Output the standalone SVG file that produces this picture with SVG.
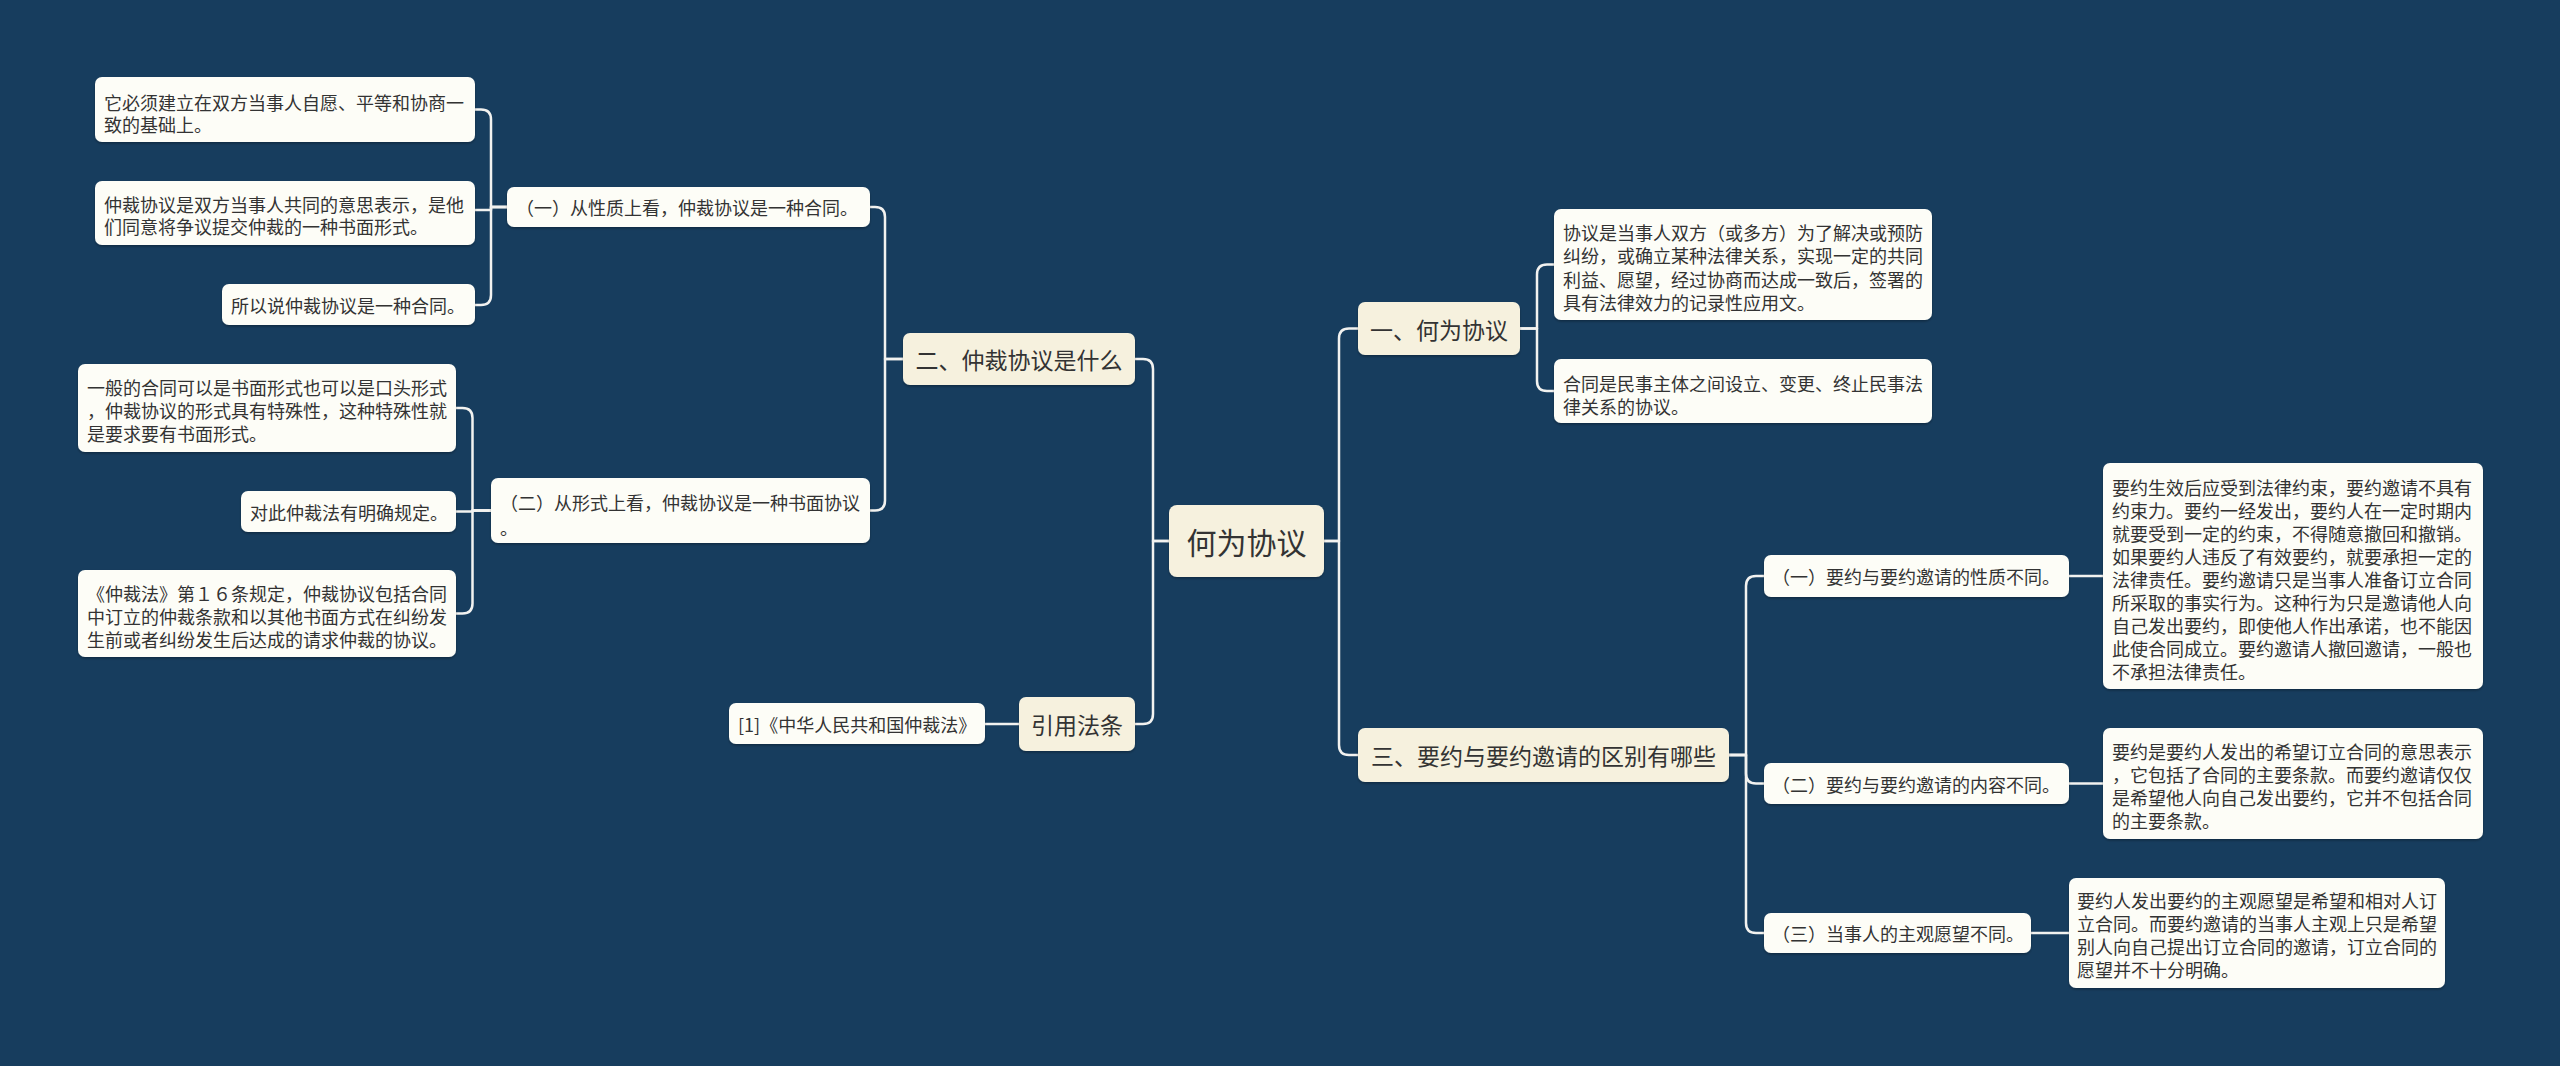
<svg xmlns="http://www.w3.org/2000/svg" width="2560" height="1066" viewBox="0 0 2560 1066">
<style>
.bg{fill:#173d5e}
.conn path{fill:none;stroke:#f2f2f0;stroke-width:2.5;stroke-linejoin:round}
.main rect{fill:#f6f1de;filter:url(#sh)}
.sub rect{fill:#fdfdf7;filter:url(#sh)}
text{font-family:"Noto Sans CJK SC","Noto Sans",sans-serif;fill:#333333}
.t30{font-size:30px}
.t23{font-size:23px}
.t18{font-size:18px}
</style>
<defs>
<filter id="sh" x="-5%" y="-10%" width="110%" height="130%">
<feDropShadow dx="0" dy="1.5" stdDeviation="1" flood-color="#000" flood-opacity="0.3"/>
</filter>
</defs>
<rect class="bg" x="0" y="0" width="2560" height="1066"/>

<g id="connectors" class="conn">
<path d="M1169,541 H1153 V369 Q1153,359 1143,359 H1135"/>
<path d="M1169,541 H1153 V714 Q1153,724 1143,724 H1135"/>
<path d="M1324,541 H1339 V338.5 Q1339,328.5 1349,328.5 H1358"/>
<path d="M1324,541 H1339 V745 Q1339,755 1349,755 H1358"/>
<path d="M1520,328.5 H1537 V274.5 Q1537,264.5 1547,264.5 H1554"/>
<path d="M1520,328.5 H1537 V381 Q1537,391 1547,391 H1554"/>
<path d="M1729,755 H1746 V586 Q1746,576 1756,576 H1764"/>
<path d="M1729,755 H1746 V773.5 Q1746,783.5 1756,783.5 H1764"/>
<path d="M1729,755 H1746 V923 Q1746,933 1756,933 H1764"/>
<path d="M2069,576 H2103"/>
<path d="M2069,783.5 H2103"/>
<path d="M2031,933 H2069"/>
<path d="M903,359 H885 V217 Q885,207 875,207 H870"/>
<path d="M903,359 H885 V500.5 Q885,510.5 875,510.5 H870"/>
<path d="M507,207 H491 V119.5 Q491,109.5 481,109.5 H475"/>
<path d="M507,207 H491 V210 H475"/>
<path d="M507,207 H491 V295 Q491,305 481,305 H475"/>
<path d="M491,510.5 H472.5 V418 Q472.5,408 462.5,408 H456"/>
<path d="M491,510.5 H472.5 V511.5 H456"/>
<path d="M491,510.5 H472.5 V603.5 Q472.5,613.5 462.5,613.5 H456"/>
<path d="M1019,724 H985"/>
</g>

<g id="root" class="main">
<rect x="1169" y="505" width="155" height="72" rx="8"/>
<text class="t30" x="1246.5" y="541" text-anchor="middle" dominant-baseline="central">何为协议</text>
</g>

<g id="n1" class="main">
<rect x="1358" y="302" width="162" height="53" rx="7"/>
<text class="t23" x="1439" y="328.5" text-anchor="middle" dominant-baseline="central">一、何为协议</text>
</g>

<g id="n3" class="main">
<rect x="1358" y="728" width="371" height="54" rx="7"/>
<text class="t23" x="1543.5" y="755" text-anchor="middle" dominant-baseline="central">三、要约与要约邀请的区别有哪些</text>
</g>

<g id="n2" class="main">
<rect x="903" y="333" width="232" height="52" rx="7"/>
<text class="t23" x="1019" y="359" text-anchor="middle" dominant-baseline="central">二、仲裁协议是什么</text>
</g>

<g id="nref" class="main">
<rect x="1019" y="697" width="116" height="54" rx="7"/>
<text class="t23" x="1077" y="724" text-anchor="middle" dominant-baseline="central">引用法条</text>
</g>

<g id="n1a" class="sub">
<rect x="1554" y="209" width="378" height="111" rx="7"/>
<text class="t18" dominant-baseline="central">
<tspan x="1563" y="231.5">协议是当事人双方（或多方）为了解决或预防</tspan>
<tspan x="1563" y="255">纠纷，或确立某种法律关系，实现一定的共同</tspan>
<tspan x="1563" y="278.5">利益、愿望，经过协商而达成一致后，签署的</tspan>
<tspan x="1563" y="302">具有法律效力的记录性应用文。</tspan>
</text>
</g>

<g id="n1b" class="sub">
<rect x="1554" y="359" width="378" height="64" rx="7"/>
<text class="t18" dominant-baseline="central">
<tspan x="1563" y="383">合同是民事主体之间设立、变更、终止民事法</tspan>
<tspan x="1563" y="406">律关系的协议。</tspan>
</text>
</g>

<g id="n3a" class="sub">
<rect x="1764" y="555" width="305" height="42" rx="7"/>
<text class="t18" x="1772" y="576" dominant-baseline="central">（一）要约与要约邀请的性质不同。</text>
</g>

<g id="n3a1" class="sub">
<rect x="2103" y="463" width="380" height="226" rx="7"/>
<text class="t18" dominant-baseline="central">
<tspan x="2112" y="486.5">要约生效后应受到法律约束，要约邀请不具有</tspan>
<tspan x="2112" y="509.6">约束力。要约一经发出，要约人在一定时期内</tspan>
<tspan x="2112" y="532.7">就要受到一定的约束，不得随意撤回和撤销。</tspan>
<tspan x="2112" y="555.8">如果要约人违反了有效要约，就要承担一定的</tspan>
<tspan x="2112" y="578.9">法律责任。要约邀请只是当事人准备订立合同</tspan>
<tspan x="2112" y="602">所采取的事实行为。这种行为只是邀请他人向</tspan>
<tspan x="2112" y="625.1">自己发出要约，即使他人作出承诺，也不能因</tspan>
<tspan x="2112" y="648.2">此使合同成立。要约邀请人撤回邀请，一般也</tspan>
<tspan x="2112" y="671.3">不承担法律责任。</tspan>
</text>
</g>

<g id="n3b" class="sub">
<rect x="1764" y="763" width="305" height="41" rx="7"/>
<text class="t18" x="1772" y="783.5" dominant-baseline="central">（二）要约与要约邀请的内容不同。</text>
</g>

<g id="n3b1" class="sub">
<rect x="2103" y="728" width="380" height="111" rx="7"/>
<text class="t18" dominant-baseline="central">
<tspan x="2112" y="750.5">要约是要约人发出的希望订立合同的意思表示</tspan>
<tspan x="2112" y="773.5">，它包括了合同的主要条款。而要约邀请仅仅</tspan>
<tspan x="2112" y="796.5">是希望他人向自己发出要约，它并不包括合同</tspan>
<tspan x="2112" y="819.5">的主要条款。</tspan>
</text>
</g>

<g id="n3c" class="sub">
<rect x="1764" y="913" width="267" height="40" rx="7"/>
<text class="t18" x="1772" y="933" dominant-baseline="central">（三）当事人的主观愿望不同。</text>
</g>

<g id="n3c1" class="sub">
<rect x="2069" y="878" width="376" height="110" rx="7"/>
<text class="t18" dominant-baseline="central">
<tspan x="2077" y="900">要约人发出要约的主观愿望是希望和相对人订</tspan>
<tspan x="2077" y="923">立合同。而要约邀请的当事人主观上只是希望</tspan>
<tspan x="2077" y="946">别人向自己提出订立合同的邀请，订立合同的</tspan>
<tspan x="2077" y="969">愿望并不十分明确。</tspan>
</text>
</g>

<g id="n2a" class="sub">
<rect x="507" y="187" width="363" height="40" rx="7"/>
<text class="t18" x="516" y="207" dominant-baseline="central">（一）从性质上看，仲裁协议是一种合同。</text>
</g>

<g id="n2a1" class="sub">
<rect x="95" y="77" width="380" height="65" rx="7"/>
<text class="t18" dominant-baseline="central">
<tspan x="104" y="101.5">它必须建立在双方当事人自愿、平等和协商一</tspan>
<tspan x="104" y="123.5">致的基础上。</tspan>
</text>
</g>

<g id="n2a2" class="sub">
<rect x="95" y="181" width="380" height="64" rx="7"/>
<text class="t18" dominant-baseline="central">
<tspan x="104" y="204">仲裁协议是双方当事人共同的意思表示，是他</tspan>
<tspan x="104" y="226">们同意将争议提交仲裁的一种书面形式。</tspan>
</text>
</g>

<g id="n2a3" class="sub">
<rect x="222" y="284" width="253" height="41" rx="7"/>
<text class="t18" x="231" y="305" dominant-baseline="central">所以说仲裁协议是一种合同。</text>
</g>

<g id="n2b" class="sub">
<rect x="491" y="478" width="379" height="65" rx="7"/>
<text class="t18" dominant-baseline="central">
<tspan x="500" y="501.5">（二）从形式上看，仲裁协议是一种书面协议</tspan>
<tspan x="500" y="527">。</tspan>
</text>
</g>

<g id="n2b1" class="sub">
<rect x="78" y="364" width="378" height="88" rx="7"/>
<text class="t18" dominant-baseline="central">
<tspan x="87" y="386.5">一般的合同可以是书面形式也可以是口头形式</tspan>
<tspan x="87" y="409.5">，仲裁协议的形式具有特殊性，这种特殊性就</tspan>
<tspan x="87" y="432.5">是要求要有书面形式。</tspan>
</text>
</g>

<g id="n2b2" class="sub">
<rect x="241" y="491" width="215" height="41" rx="7"/>
<text class="t18" x="250" y="511.5" dominant-baseline="central">对此仲裁法有明确规定。</text>
</g>

<g id="n2b3" class="sub">
<rect x="78" y="570" width="378" height="87" rx="7"/>
<text class="t18" dominant-baseline="central">
<tspan x="87" y="592.5">《仲裁法》第１６条规定，仲裁协议包括合同</tspan>
<tspan x="87" y="615.5">中订立的仲裁条款和以其他书面方式在纠纷发</tspan>
<tspan x="87" y="638.5">生前或者纠纷发生后达成的请求仲裁的协议。</tspan>
</text>
</g>

<g id="nref1" class="sub">
<rect x="729" y="703" width="256" height="41" rx="7"/>
<text class="t18" x="738" y="724" dominant-baseline="central">[1]《中华人民共和国仲裁法》</text>
</g>
</svg>
